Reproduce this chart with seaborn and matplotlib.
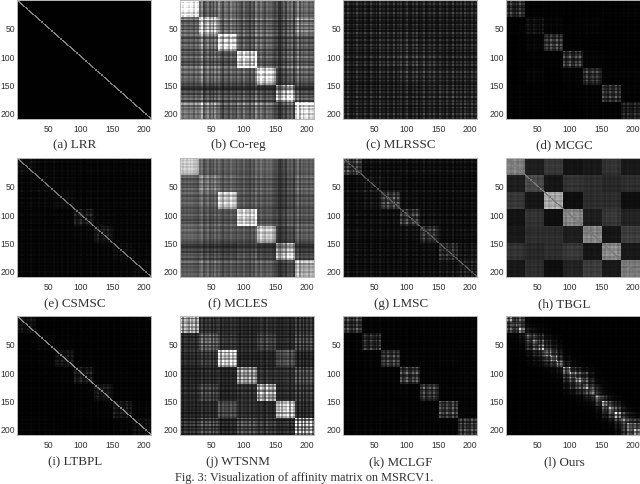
import numpy as np
import matplotlib
matplotlib.use("Agg")
import matplotlib.pyplot as plt
import seaborn as sns

sns.set_theme(style="white")
plt.rcParams['font.family'] = ['Liberation Sans', 'DejaVu Sans']

titles = ["(a) LRR", "(b) Co-reg", "(c) MLRSSC", "(d) MCGC", "(e) CSMSC", "(f) MCLES",
          "(g) LMSC", "(h) TBGL", "(i) LTBPL", "(j) WTSNM", "(k) MCLGF", "(l) Ours"]
tick_labels = [50, 100, 150, 200]
fig_caption = "Fig. 3: Visualization of affinity matrix on MSRCV1."

# brightness between the seven groups of samples
lrr = [[1]*7]*7
coreg = [[215, 85, 95, 80, 85, 80, 90], [90, 165, 100, 85, 90, 80, 110], [85, 100, 195, 85, 90, 75, 80],
         [85, 90, 80, 215, 90, 85, 90], [90, 95, 85, 90, 210, 75, 85], [80, 75, 75, 80, 75, 205, 75],
         [105, 110, 80, 95, 95, 75, 205]]
mlrssc = [[30, 30, 30, 30, 30, 30, 30], [30, 31, 31, 31, 30, 30, 30], [30, 31, 34, 36, 32, 30, 30],
          [30, 31, 36, 40, 38, 31, 30], [30, 30, 32, 38, 38, 34, 32], [30, 30, 30, 31, 34, 36, 32],
          [30, 30, 30, 30, 32, 32, 34]]
mcgc = [[38, 3, 2, 2, 2, 3, 4], [3, 16, 6, 3, 5, 3, 3], [2, 6, 52, 3, 2, 2, 2], [2, 3, 3, 45, 5, 3, 2],
        [2, 5, 2, 5, 42, 4, 4], [3, 3, 2, 3, 4, 42, 4], [4, 3, 2, 2, 4, 4, 26]]
csmsc = [[12, 8, 7, 6, 6, 6, 6], [8, 10, 8, 6, 6, 6, 6], [7, 8, 12, 7, 6, 6, 6], [6, 6, 7, 24, 8, 6, 6],
         [6, 6, 6, 8, 22, 7, 6], [6, 6, 6, 6, 7, 11, 7], [6, 6, 6, 6, 6, 7, 10]]
mcles = [[180, 85, 85, 80, 90, 75, 85], [85, 110, 90, 80, 85, 70, 90], [85, 90, 185, 80, 80, 65, 80],
         [80, 80, 80, 200, 80, 75, 80], [90, 85, 80, 80, 180, 65, 85], [75, 70, 65, 75, 65, 190, 65],
         [85, 90, 80, 80, 85, 65, 160]]
lmsc = [[50, 15, 14, 14, 15, 14, 14], [15, 22, 18, 14, 14, 14, 14], [14, 18, 60, 15, 13, 13, 13],
        [14, 14, 15, 48, 16, 14, 13], [15, 14, 13, 16, 45, 14, 14], [14, 14, 13, 14, 14, 38, 18],
        [14, 14, 13, 13, 14, 18, 26]]
tbgl = [[125, 30, 55, 20, 25, 50, 25], [30, 70, 22, 50, 45, 40, 45], [55, 22, 165, 15, 45, 45, 15],
        [20, 50, 15, 135, 30, 55, 35], [25, 45, 45, 30, 130, 22, 60], [50, 40, 45, 55, 22, 135, 25],
        [25, 45, 15, 35, 60, 25, 120]]
ltbpl = [[14, 3, 3, 3, 3, 3, 4], [3, 7, 4, 3, 3, 3, 4], [3, 4, 20, 4, 3, 3, 3], [3, 3, 4, 22, 4, 4, 3],
         [3, 3, 3, 4, 20, 4, 3], [3, 3, 3, 4, 4, 20, 5], [4, 4, 3, 3, 3, 5, 12]]
wtsnm = [[150, 45, 40, 35, 40, 35, 45], [45, 85, 50, 40, 60, 40, 60], [40, 50, 180, 35, 35, 70, 35],
         [35, 40, 35, 140, 45, 45, 65], [40, 60, 35, 45, 150, 40, 50], [35, 40, 70, 45, 40, 185, 40],
         [45, 60, 35, 65, 50, 40, 130]]
mclgf = [[45, 5, 4, 3, 4, 4, 4], [5, 40, 5, 4, 4, 4, 5], [4, 5, 50, 5, 4, 5, 4], [3, 4, 5, 50, 5, 4, 5],
         [4, 4, 4, 5, 48, 5, 5], [4, 4, 5, 4, 5, 50, 5], [4, 5, 4, 5, 5, 5, 45]]
ours = [
 [80,50,50,6,3,3,2,2,2,2,2,2,2,2,2,2,2,2,2,2,2],
 [50,80,50,10,6,4,3,2,2,2,2,2,2,2,2,2,2,2,2,2,2],
 [50,50,85,18,10,6,4,2,2,2,2,2,2,2,2,2,2,2,2,2,2],
 [6,10,18,70,50,35,14,7,4,2,2,2,2,2,2,2,2,2,2,2,2],
 [3,6,10,50,80,55,28,14,6,2,2,2,2,2,2,2,2,2,2,2,2],
 [3,4,6,35,55,85,42,22,10,3,2,2,2,2,2,2,2,2,2,2,2],
 [2,3,4,14,28,42,100,55,28,6,3,2,2,2,2,2,2,2,2,2,2],
 [2,2,2,7,14,22,55,90,42,10,6,3,2,2,2,2,2,2,2,2,2],
 [2,2,2,4,6,10,28,42,85,22,10,4,3,2,2,2,2,2,2,2,2],
 [2,2,2,2,2,3,6,10,22,100,50,28,14,6,3,2,2,2,2,2,2],
 [2,2,2,2,2,2,3,6,10,50,85,50,35,14,4,2,2,2,2,2,2],
 [2,2,2,2,2,2,2,3,4,28,50,85,50,28,8,4,2,2,2,2,2],
 [2,2,2,2,2,2,2,2,3,14,35,50,80,50,22,6,3,2,2,2,2],
 [2,2,2,2,2,2,2,2,2,6,14,28,50,85,35,10,4,2,2,2,2],
 [2,2,2,2,2,2,2,2,2,3,4,8,22,35,100,42,14,6,3,2,2],
 [2,2,2,2,2,2,2,2,2,2,2,4,6,10,42,105,50,22,7,3,2],
 [2,2,2,2,2,2,2,2,2,2,2,2,3,4,14,50,100,50,18,6,3],
 [2,2,2,2,2,2,2,2,2,2,2,2,2,2,6,22,50,100,42,18,8],
 [2,2,2,2,2,2,2,2,2,2,2,2,2,2,3,7,18,42,85,50,35],
 [2,2,2,2,2,2,2,2,2,2,2,2,2,2,2,3,6,18,50,85,60],
 [2,2,2,2,2,2,2,2,2,2,2,2,2,2,2,2,3,8,35,60,85]]
matrices = [lrr, coreg, mlrssc, mcgc, csmsc, mcles, lmsc, tbgl, ltbpl, wtsnm, mclgf, ours]

# brightness of the main diagonal line per panel (0 = no visible line)
diagonals = [130, 0, 0, 0, 120, 0, 90, 120, 140, 0, 0, 0]

# strength of the streaks, per three samples
coreg_streak = [1.2, 1.0, 1.2, 1.1, 1.0, 1.2, 1.1, .9, 1.2, 1.0, 1.1, 1.6, .7, 1.0, 1.3, .8, 1.1, .7, 1.3, .9,
                1.4, 1.0, .7, 1.2, 1.1, .8, 1.3, 1.0, 1.1, .7, 1.2, 1.0, .8, 1.3, .9, 1.0, .7, 1.1, .8, 1.5,
                1.1, .9, 1.3, 1.0, .8, 1.2, 1.0, 1.1, .9, .7, 1.0, .6, .5, .8, 1.1, .7, 1.3, 1.0, 1.4, .7,
                1.0, 1.5, .8, 1.2, .9, 1.1, 1.2, .9, 1.1, 1.0]
mcles_streak = [1.1, 1.0, 1.1, 1.0, 1.1, 1.0, 1.1, 1.0, 1.0, .9, 1.1, 1.3, .8, 1.0, 1.2, .8, 1.0, .8, 1.2, .9,
                1.2, 1.0, .8, 1.1, 1.0, .9, 1.2, 1.0, 1.0, .8, 1.1, 1.0, .9, 1.2, .9, 1.0, .8, 1.1, .9, 1.3,
                1.0, .9, 1.2, 1.0, .9, 1.1, 1.0, 1.1, .9, .8, 1.0, .7, .6, .8, 1.0, .7, 1.2, 1.0, 1.2, .8,
                1.0, 1.3, .8, 1.1, .9, 1.0, 1.1, .9, 1.1, 1.0]
tbgl_streak = [1.0, 1.05, .95, 1.0, 1.1, 1.0, .95, 1.05, 1.0, .9, 1.1, 1.0, .95, 1.05, 1.0, 1.1, .9, 1.0, 1.05, .95,
               1.0, 1.1, .95, 1.0, 1.05, .9, 1.05, 1.0, .95, 1.1, 1.0, .9, 1.05, 1.0, 1.1, .95, 1.0, 1.05, .9, 1.0,
               1.1, 1.0, .95, 1.05, .9, 1.0, 1.1, .95, 1.0, 1.05, 1.0, .9, 1.1, 1.0, .95, 1.05, 1.0, 1.1, .9, 1.0,
               1.05, .95, 1.0, 1.1, .9, 1.05, 1.0, .95, 1.05, 1.0]
wtsnm_streak = [1.3, .7, 1.2, 1.0, .8, 1.3, .9, 1.2, .7, 1.2, .8, 1.4, .7, 1.2, .9, 1.3, .7, 1.4, .8, 1.1,
                1.4, .7, 1.2, .9, 1.1, .8, 1.3, .9, 1.2, .8, 1.2, .7, 1.3, .9, 1.1, .8, 1.3, .7, 1.2, .9,
                1.2, .8, 1.3, 1.0, .7, 1.4, .9, 1.1, .8, 1.2, 1.0, .9, 1.2, .8, 1.1, 1.0, 1.3, .7, 1.2, .9,
                1.5, .6, 1.4, .7, 1.5, .7, 1.3, .8, 1.4, .7]
fine_mild = [1.3, .7, 1.5, .8, .6, 1.2, .7, 1.6, .8, 1.0, .6, 1.4, .8, .6, 1.5, .9, .7, 1.3, .6, 1.6,
             .8, 1.1, .6, 1.4, .8, .7, 1.5, .6, 1.2, .8, 1.4, .6, .9, 1.6, .7, .6, 1.3, .8, 1.5, .6,
             1.0, .8, 1.6, .6, .9, 1.3, .7, 1.4, .8, .6, 1.5, .8, 1.1, .6, 1.4, .8, .7, 1.6, .6, 1.2,
             .8, 1.4, .6, 1.5, .8, 1.0, .7, 1.6, .8, 1.2]
streaks = [None, coreg_streak, fine_mild, fine_mild, fine_mild, mcles_streak,
           fine_mild, tbgl_streak, fine_mild, wtsnm_streak, fine_mild, fine_mild]


def build(values, diagonal, streak):
    values = np.asarray(values, dtype=float)
    n = 210 // values.shape[0]
    grid = np.kron(values, np.ones((n, n)))
    line = np.repeat(streak, 3) / np.mean(streak) if streak is not None else np.ones(210)
    grid = grid * np.outer(line, line)
    if diagonal:
        for off in (-1, 0, 1):
            idx = np.arange(210 - abs(off))
            grid[idx + max(-off, 0), idx + max(off, 0)] = diagonal
    return np.clip(grid, 0, 255)


W, H = 640, 485
fig = plt.figure(figsize=(6.4, 4.85), dpi=100, facecolor="white")
lefts = [17, 180, 343, 506]
tops = [1, 159, 317]
cap_x = [75, 238, 401, 564]
cap_y = [145, 304, 462]

for k, title in enumerate(titles):
    r, c = divmod(k, 4)
    ax = fig.add_axes([lefts[c] / W, 1 - (tops[r] + 118.5) / H, 134 / W, 118.5 / H])
    sns.heatmap(build(matrices[k], diagonals[k], streaks[k]), ax=ax, cmap="gray", vmin=0, vmax=255,
                cbar=False, xticklabels=False, yticklabels=False, square=False)
    pos = [v - 0.5 for v in tick_labels]
    ax.set_xticks(pos, labels=tick_labels)
    ax.set_yticks(pos, labels=tick_labels)
    ax.tick_params(length=0, labelsize=6.2, labelcolor="#303030", pad=1.5)
    ax.tick_params(axis="x", pad=4)
    for s in ax.spines.values():
        s.set_visible(True)
        s.set_color("#b8b8b8")
        s.set_linewidth(0.7)
    fig.text(cap_x[c] / W, 1 - cap_y[r] / H, title, ha="center", va="center",
             family="Liberation Serif", fontsize=9.4, color="#303030")

fig.text(304 / W, 1 - 478.5 / H, fig_caption, ha="center", va="center",
         family="Liberation Serif", fontsize=8.8, color="#303030")
fig.savefig("out.png", dpi=100)
